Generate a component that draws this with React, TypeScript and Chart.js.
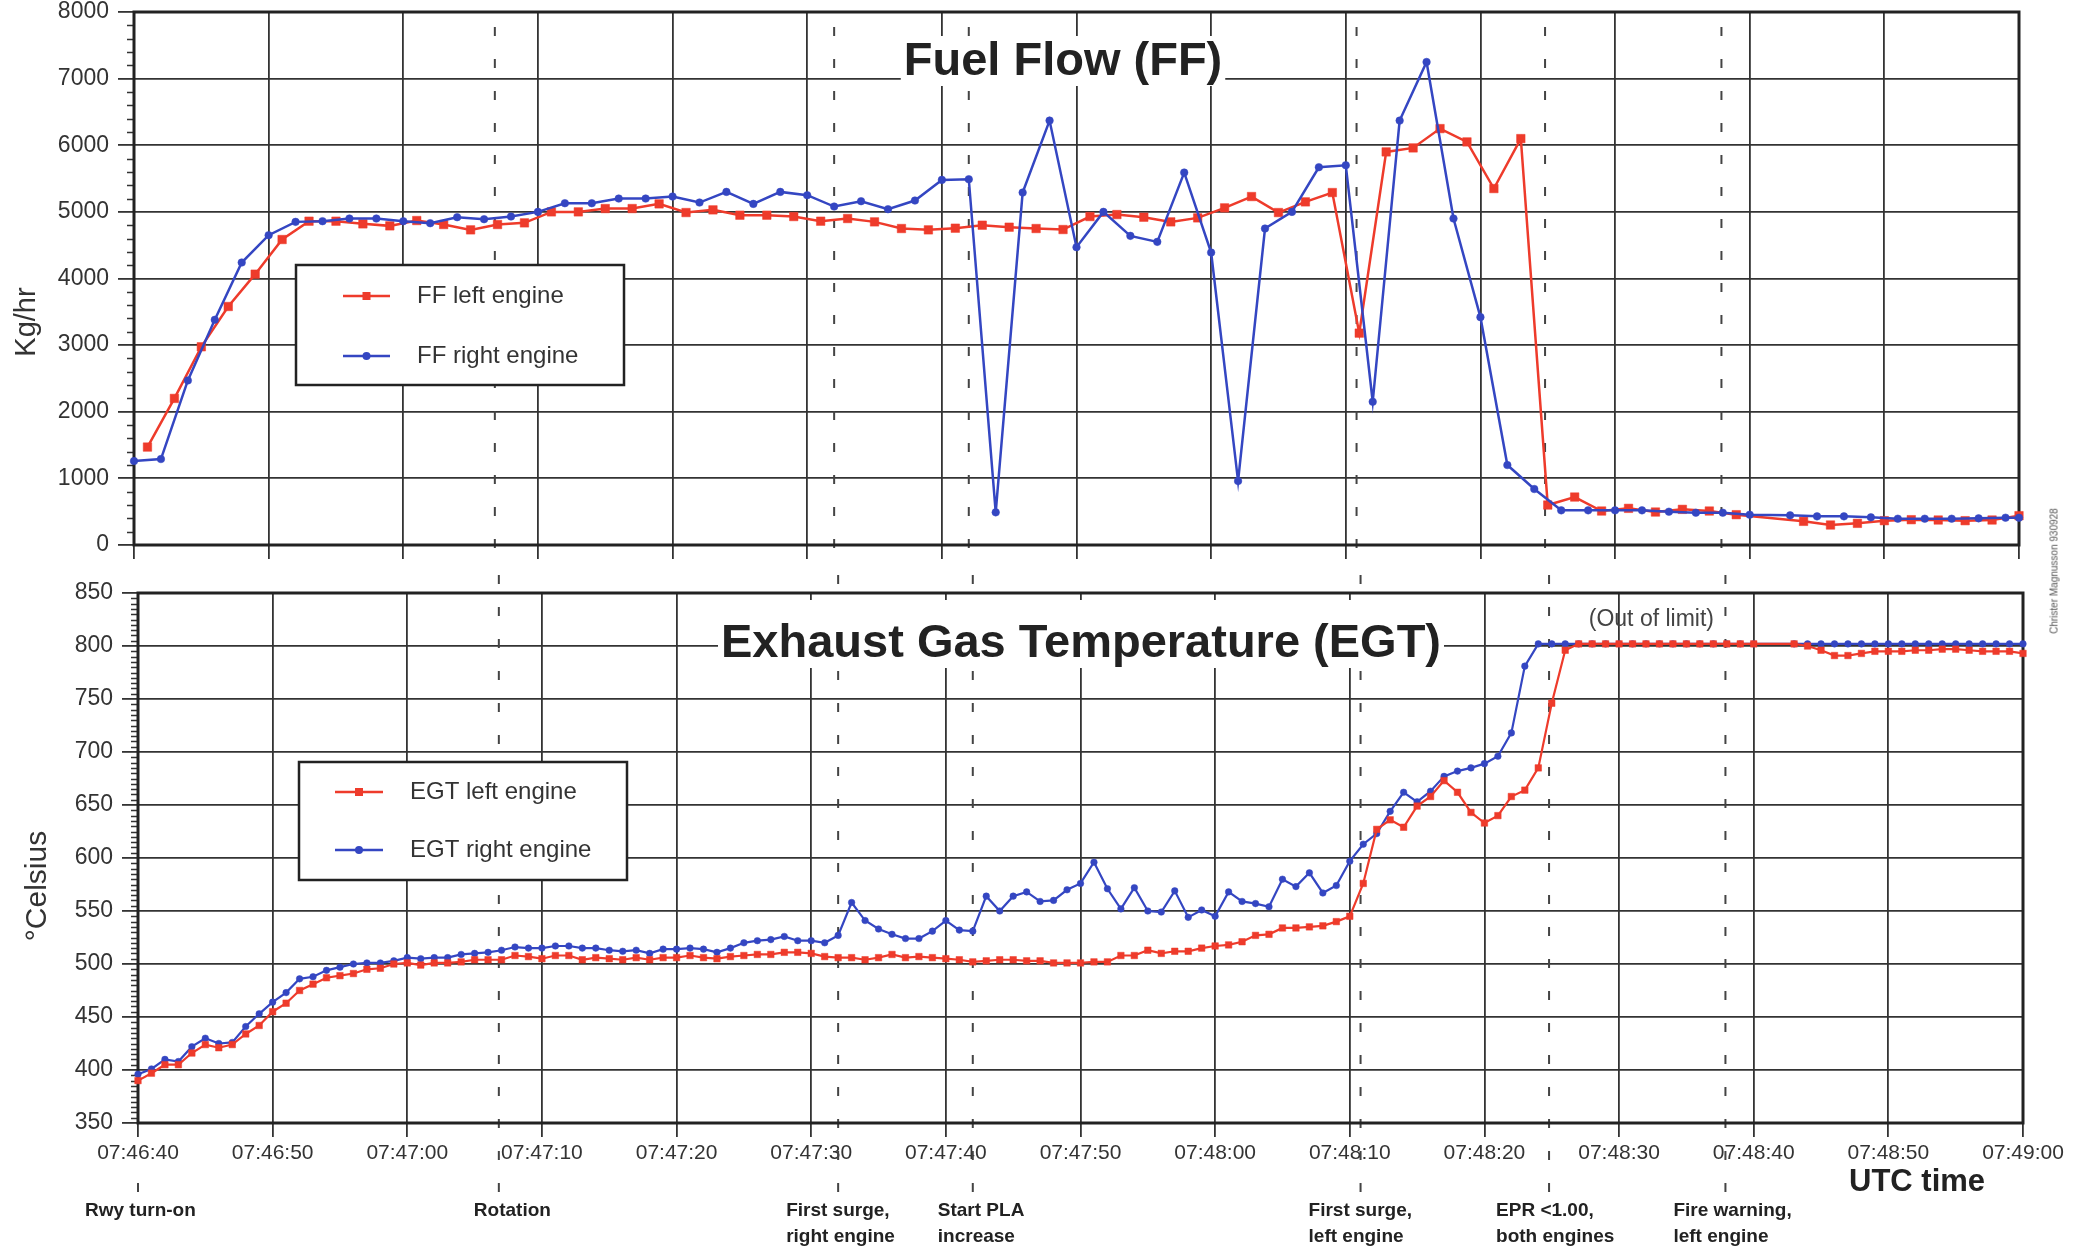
import React, { useEffect, useRef } from 'react';
import { Chart, registerables } from 'chart.js';

Chart.register(...registerables);

const FONT = '"Liberation Sans", Arial, Helvetica, sans-serif';
const RED = '#ee3b2b';
const BLUE = '#3446c2';
const GRID = '#333333';
const TEXT = '#333333';
const DARK = '#222222';

// ---- x axis (seconds after 07:46:40) ----
const TIME_MIN = 0;
const TIME_MAX = 140;
const TIME_STEP = 10;
const TIME_TICK_LABELS = [
  '07:46:40', '07:46:50', '07:47:00', '07:47:10', '07:47:20', '07:47:30', '07:47:40', '07:47:50',
  '07:48:00', '07:48:10', '07:48:20', '07:48:30', '07:48:40', '07:48:50', '07:49:00',
];

// ---- Fuel flow ----
const FF_MIN = 0;
const FF_MAX = 8000;
const FF_STEP = 1000;
const FF_MINOR = 200;

const FF_LEFT_T = [
  1, 3, 5, 7, 9, 11, 13, 15, 17, 19, 21, 23, 25, 27, 29, 31, 33, 35, 37, 39,
  41, 43, 45, 47, 49, 51, 53, 55, 57, 59, 61, 63, 65, 67, 69, 71, 73, 75, 77, 79,
  81, 83, 85, 87, 89, 91, 93, 95, 97, 99, 101, 103, 105, 107, 109, 111, 113, 115, 117, 119,
  124, 126, 128, 130, 132, 134, 136, 138, 140,
];
const FF_LEFT = [
  1470, 2200, 2975, 3580, 4065, 4585, 4860, 4860, 4820, 4790,
  4870, 4810, 4730, 4810, 4835, 5000, 5000, 5050, 5050, 5120,
  4990, 5030, 4950, 4950, 4930, 4860, 4900, 4850, 4750, 4730,
  4755, 4800, 4770, 4750, 4735, 4930, 4960, 4920, 4850, 4910,
  5060, 5230, 4990, 5150, 5290, 3180, 5900, 5960, 6250, 6050,
  5350, 6100, 600, 720, 510, 550, 495, 535, 510, 455,
  355, 300, 325, 365, 380, 375, 365, 375, 440,
];

const FF_RIGHT_T = [
  0, 2, 4, 6, 8, 10, 12, 14, 16, 18, 20, 22, 24, 26, 28, 30, 32, 34, 36, 38,
  40, 42, 44, 46, 48, 50, 52, 54, 56, 58, 60, 62, 64, 66, 68, 70, 72, 74, 76, 78,
  80, 82, 84, 86, 88, 90, 92, 94, 96, 98, 100, 102, 104, 106, 108, 110, 112, 114, 116, 118,
  120, 123, 125, 127, 129, 131, 133, 135, 137, 139, 140,
];
const FF_RIGHT = [
  1260, 1290, 2470, 3380, 4240, 4650, 4850, 4860, 4900, 4900,
  4860, 4830, 4920, 4890, 4930, 5000, 5130, 5130, 5200, 5200,
  5230, 5140, 5300, 5120, 5300, 5250, 5080, 5160, 5040, 5170,
  5480, 5490, 490, 5290, 6370, 4470, 5000, 4640, 4550, 5590,
  4390, 960, 4750, 5000, 5670, 5700, 2150, 6370, 7250, 4900,
  3420, 1200, 840, 520, 520, 520, 520, 500, 485, 485,
  455, 445, 430, 430, 415, 395, 395, 395, 400, 410, 410,
];

// ---- Exhaust gas temperature ----
const EGT_MIN = 350;
const EGT_MAX = 850;
const EGT_STEP = 50;
const EGT_MINOR = 5;

const EGT_T = [
  0, 1, 2, 3, 4, 5, 6, 7, 8, 9, 10, 11, 12, 13, 14, 15, 16, 17, 18, 19,
  20, 21, 22, 23, 24, 25, 26, 27, 28, 29, 30, 31, 32, 33, 34, 35, 36, 37, 38, 39,
  40, 41, 42, 43, 44, 45, 46, 47, 48, 49, 50, 51, 52, 53, 54, 55, 56, 57, 58, 59,
  60, 61, 62, 63, 64, 65, 66, 67, 68, 69, 70, 71, 72, 73, 74, 75, 76, 77, 78, 79,
  80, 81, 82, 83, 84, 85, 86, 87, 88, 89, 90, 91, 92, 93, 94, 95, 96, 97, 98, 99,
  100, 101, 102, 103, 104, 105, 106, 107, 108, 109, 110, 111, 112, 113, 114, 115, 116, 117, 118, 119,
  120, 123, 124, 125, 126, 127, 128, 129, 130, 131, 132, 133, 134, 135, 136, 137, 138, 139, 140,
];
const EGT_LEFT = [
  390, 397, 405, 405, 416, 424, 421, 424, 434, 442,
  455, 463, 475, 481, 487, 489, 491, 495, 496, 500,
  501, 499, 501, 501, 502, 504, 504, 504, 508, 507,
  505, 508, 508, 504, 506, 505, 504, 506, 504, 506,
  506, 508, 506, 505, 507, 508, 509, 509, 511, 511,
  510, 507, 506, 506, 504, 506, 509, 506, 507, 506,
  505, 504, 502, 503, 504, 504, 503, 503, 501, 501,
  501, 502, 502, 508, 508, 513, 510, 512, 512, 515,
  517, 518, 521, 527, 528, 534, 534, 535, 536, 540,
  545, 576, 627, 636, 629, 649, 658, 673, 662, 643,
  633, 640, 658, 664, 685, 746, 796, 802, 802, 802,
  802, 802, 802, 802, 802, 802, 802, 802, 802, 802,
  802, 802, 800, 796, 791, 791, 793, 795, 795, 795,
  796, 796, 797, 797, 796, 795, 795, 795, 793,
];
const EGT_RIGHT = [
  396, 401, 410, 408, 422, 430, 425, 426, 441, 453,
  464, 473, 486, 488, 494, 497, 500, 501, 501, 503,
  506, 505, 506, 506, 509, 510, 511, 513, 516, 515,
  515, 517, 517, 515, 515, 513, 512, 513, 510, 514,
  514, 515, 514, 511, 515, 520, 522, 523, 526, 522,
  522, 520, 527, 558, 541, 533, 528, 524, 524, 531,
  541, 532, 531, 564, 550, 564, 568, 559, 560, 570,
  576, 596, 571, 552, 572, 550, 549, 569, 544, 551,
  545, 568, 559, 557, 554, 580, 573, 586, 567, 574,
  597, 613, 623, 644, 662, 653, 663, 677, 682, 685,
  689, 696, 718, 781, 802, 802, 802, 802, 802, 802,
  802, 802, 802, 802, 802, 802, 802, 802, 802, 802,
  802, 802, 802, 802, 802, 802, 802, 802, 802, 802,
  802, 802, 802, 802, 802, 802, 802, 802, 802,
];

// ---- events ----
const EVENT_T = [0, 26.8, 52, 62, 90.8, 104.8, 117.9];
const EVENT_LABELS = [
  ['Rwy turn-on'],
  ['Rotation'],
  ['First surge,', 'right engine'],
  ['Start PLA', 'increase'],
  ['First surge,', 'left engine'],
  ['EPR <1.00,', 'both engines'],
  ['Fire warning,', 'left engine'],
];
const EVENT_LABEL_DX = [-53, -25, -52, -35, -52, -53, -52];

const OUT_OF_LIMIT_T = 112.4;
const OUT_OF_LIMIT_V = 825;

const pts = (ts: number[], vs: number[]) => ts.map((t, i) => ({ x: t, y: vs[i] }));

function drawMinorTicks(ctx: any, scale: any, left: number, from: number, to: number, step: number, major: number, len: number) {
  ctx.save();
  ctx.strokeStyle = GRID;
  ctx.lineWidth = 1.4;
  ctx.beginPath();
  for (let v = from; v <= to; v += step) {
    if (v % major === 0) continue;
    const py = Math.round(scale.getPixelForValue(v)) + 0.5;
    ctx.moveTo(left - len, py);
    ctx.lineTo(left, py);
  }
  ctx.stroke();
  ctx.restore();
}

function drawFrame(ctx: any, a: any) {
  ctx.save();
  ctx.strokeStyle = DARK;
  ctx.lineWidth = 3;
  ctx.strokeRect(a.left, a.top, a.right - a.left, a.bottom - a.top);
  ctx.restore();
}

function drawTitle(ctx: any, text: string, cx: number, baseline: number, boxTop: number, boxBottom: number) {
  ctx.save();
  ctx.font = `bold 47px ${FONT}`;
  const w = ctx.measureText(text).width;
  ctx.fillStyle = '#ffffff';
  ctx.fillRect(cx - w / 2 - 3, boxTop, w + 6, boxBottom - boxTop);
  ctx.fillStyle = DARK;
  ctx.textAlign = 'center';
  ctx.textBaseline = 'alphabetic';
  ctx.fillText(text, cx, baseline);
  ctx.restore();
}

function drawYTitle(ctx: any, text: string, cx: number, cy: number, size: number) {
  ctx.save();
  ctx.translate(cx, cy);
  ctx.rotate(-Math.PI / 2);
  ctx.font = `${size}px ${FONT}`;
  ctx.fillStyle = TEXT;
  ctx.textAlign = 'center';
  ctx.textBaseline = 'middle';
  ctx.fillText(text, 0, 0);
  ctx.restore();
}

function drawLegend(ctx: any, box: any, entries: any[]) {
  ctx.save();
  ctx.fillStyle = '#ffffff';
  ctx.fillRect(box.x, box.y, box.w, box.h);
  ctx.strokeStyle = DARK;
  ctx.lineWidth = 2.5;
  ctx.strokeRect(box.x, box.y, box.w, box.h);
  entries.forEach((e) => {
    ctx.strokeStyle = e.color;
    ctx.fillStyle = e.color;
    ctx.lineWidth = 2.5;
    ctx.beginPath();
    ctx.moveTo(box.lx1, e.y);
    ctx.lineTo(box.lx2, e.y);
    ctx.stroke();
    const mx = (box.lx1 + box.lx2) / 2;
    if (e.square) {
      ctx.fillRect(mx - 4, e.y - 4, 8, 8);
    } else {
      ctx.beginPath();
      ctx.arc(mx, e.y, 4, 0, Math.PI * 2);
      ctx.fill();
    }
    ctx.fillStyle = TEXT;
    ctx.font = `24px ${FONT}`;
    ctx.textAlign = 'left';
    ctx.textBaseline = 'middle';
    ctx.fillText(e.label, box.tx, e.y);
  });
  ctx.restore();
}

function dashed(ctx: any) {
  ctx.strokeStyle = '#444444';
  ctx.lineWidth = 2;
  ctx.setLineDash([9, 23]);
}

const topDecor = {
  id: 'ffDecor',
  beforeDatasetsDraw(chart: any) {
    const { ctx, chartArea: a, scales } = chart;
    drawMinorTicks(ctx, scales.y, a.left, FF_MIN, FF_MAX, FF_MINOR, FF_STEP, 7);
    ctx.save();
    dashed(ctx);
    EVENT_T.forEach((t) => {
      if (t <= TIME_MIN) return;
      const px = scales.x.getPixelForValue(t);
      ctx.beginPath();
      ctx.moveTo(px, a.top + 15);
      ctx.lineTo(px, chart.height);
      ctx.stroke();
    });
    ctx.restore();
    drawFrame(ctx, a);
    drawTitle(ctx, 'Fuel Flow (FF)', 1063, 75, 36, 86);
    drawYTitle(ctx, 'Kg/hr', 27, 322, 29);
  },
  afterDatasetsDraw(chart: any) {
    drawLegend(chart.ctx, { x: 296, y: 265, w: 328, h: 120, lx1: 343, lx2: 390, tx: 417 }, [
      { label: 'FF left engine', color: RED, square: true, y: 296 },
      { label: 'FF right engine', color: BLUE, square: false, y: 356 },
    ]);
  },
};

const bottomDecor = {
  id: 'egtDecor',
  beforeDatasetsDraw(chart: any) {
    const { ctx, chartArea: a, scales } = chart;
    drawMinorTicks(ctx, scales.y, a.left, EGT_MIN, EGT_MAX, EGT_MINOR, EGT_STEP, 7);
    ctx.save();
    dashed(ctx);
    EVENT_T.forEach((t) => {
      const px = scales.x.getPixelForValue(t);
      ctx.beginPath();
      ctx.moveTo(px, 622);
      ctx.lineTo(px, t <= TIME_MIN ? 606 : 0);
      ctx.stroke();
    });
    ctx.restore();
    drawFrame(ctx, a);
    drawTitle(ctx, 'Exhaust Gas Temperature (EGT)', 1081, 87, 30, 98);
    drawYTitle(ctx, '°Celsius', 38, 316, 30);

    ctx.save();
    ctx.fillStyle = '#444444';
    ctx.font = `23px ${FONT}`;
    ctx.textAlign = 'center';
    ctx.textBaseline = 'middle';
    ctx.fillText('(Out of limit)', scales.x.getPixelForValue(OUT_OF_LIMIT_T), scales.y.getPixelForValue(OUT_OF_LIMIT_V));

    ctx.fillStyle = DARK;
    ctx.font = `bold 31px ${FONT}`;
    ctx.textAlign = 'left';
    ctx.fillText('UTC time', 1849, 612);

    ctx.font = `bold 19px ${FONT}`;
    EVENT_LABELS.forEach((lines, i) => {
      const lx = scales.x.getPixelForValue(EVENT_T[i]) + EVENT_LABEL_DX[i];
      lines.forEach((ln, j) => ctx.fillText(ln, lx, 641 + j * 26));
    });
    ctx.restore();
  },
  afterDatasetsDraw(chart: any) {
    drawLegend(chart.ctx, { x: 299, y: 192, w: 328, h: 118, lx1: 335, lx2: 383, tx: 410 }, [
      { label: 'EGT left engine', color: RED, square: true, y: 222 },
      { label: 'EGT right engine', color: BLUE, square: false, y: 280 },
    ]);
  },
};

function xAxis(height: number, showLabels: boolean) {
  return {
    type: 'linear',
    min: TIME_MIN,
    max: TIME_MAX,
    afterFit: (s: any) => { s.height = height; s.paddingLeft = 0; s.paddingRight = 0; },
    border: { display: false },
    grid: { color: GRID, lineWidth: 1.8, drawTicks: true, tickLength: 14, tickColor: GRID, tickWidth: 1.8 },
    ticks: {
      display: showLabels,
      stepSize: TIME_STEP,
      autoSkip: false,
      maxRotation: 0,
      minRotation: 0,
      padding: 4,
      color: TEXT,
      font: { size: 21, family: FONT },
      callback: (v: number) => TIME_TICK_LABELS[Math.round((v - TIME_MIN) / TIME_STEP)] ?? '',
    },
  };
}

function yAxis(width: number, min: number, max: number, step: number) {
  return {
    type: 'linear',
    min,
    max,
    afterFit: (s: any) => { s.width = width; s.paddingTop = 0; s.paddingBottom = 0; },
    border: { display: false },
    grid: { color: GRID, lineWidth: 1.8, tickLength: 16, tickColor: GRID, tickWidth: 1.8 },
    ticks: { stepSize: step, padding: 9, color: TEXT, font: { size: 23, family: FONT }, callback: (v: number) => String(v) },
  };
}

function lineSet(label: string, data: any[], color: string, square: boolean, r: number, w: number) {
  return {
    label,
    data,
    borderColor: color,
    backgroundColor: color,
    pointBackgroundColor: color,
    pointBorderColor: color,
    pointBorderWidth: 0.5,
    pointStyle: square ? 'rect' : 'circle',
    pointRadius: r,
    borderWidth: w,
    tension: 0,
    clip: false,
  };
}

export default function App() {
  const topRef = useRef<HTMLCanvasElement>(null);
  const botRef = useRef<HTMLCanvasElement>(null);

  useEffect(() => {
    Chart.defaults.font.family = FONT;
    const common = {
      responsive: false,
      animation: false,
      events: [],
      plugins: { legend: { display: false }, tooltip: { enabled: false } },
    };
    const top = new Chart(topRef.current as HTMLCanvasElement, {
      type: 'line',
      data: {
        datasets: [
          lineSet('FF right engine', pts(FF_RIGHT_T, FF_RIGHT), BLUE, false, 3.8, 2.5),
          lineSet('FF left engine', pts(FF_LEFT_T, FF_LEFT), RED, true, 6, 2.5),
        ],
      },
      options: {
        ...common,
        layout: { padding: { left: 0, top: 12, right: 68, bottom: 0 } },
        scales: { x: xAxis(25, false), y: yAxis(134, FF_MIN, FF_MAX, FF_STEP) },
      } as any,
      plugins: [topDecor],
    } as any);
    const bot = new Chart(botRef.current as HTMLCanvasElement, {
      type: 'line',
      data: {
        datasets: [
          lineSet('EGT left engine', pts(EGT_T, EGT_LEFT), RED, true, 4.6, 2.2),
          lineSet('EGT right engine', pts(EGT_T, EGT_RIGHT), BLUE, false, 3.3, 2.2),
        ],
      },
      options: {
        ...common,
        layout: { padding: { left: 0, top: 23, right: 64, bottom: 0 } },
        scales: { x: xAxis(124, true), y: yAxis(138, EGT_MIN, EGT_MAX, EGT_STEP) },
      } as any,
      plugins: [bottomDecor],
    } as any);
    return () => {
      top.destroy();
      bot.destroy();
    };
  }, []);

  return (
    <div style={{ position: 'absolute', left: 0, top: 0, width: 2087, height: 1247, background: '#ffffff', overflow: 'hidden' }}>
      <canvas ref={topRef} width={2087} height={570} style={{ position: 'absolute', left: 0, top: 0 }} />
      <canvas ref={botRef} width={2087} height={677} style={{ position: 'absolute', left: 0, top: 570 }} />
      <div
        style={{
          position: 'absolute',
          left: 2054,
          top: 571,
          transform: 'translate(-50%, -50%) rotate(-90deg)',
          fontFamily: FONT,
          fontSize: 10,
          color: '#555555',
          whiteSpace: 'nowrap',
        }}
      >
        Christer Magnusson 930928
      </div>
    </div>
  );
}
